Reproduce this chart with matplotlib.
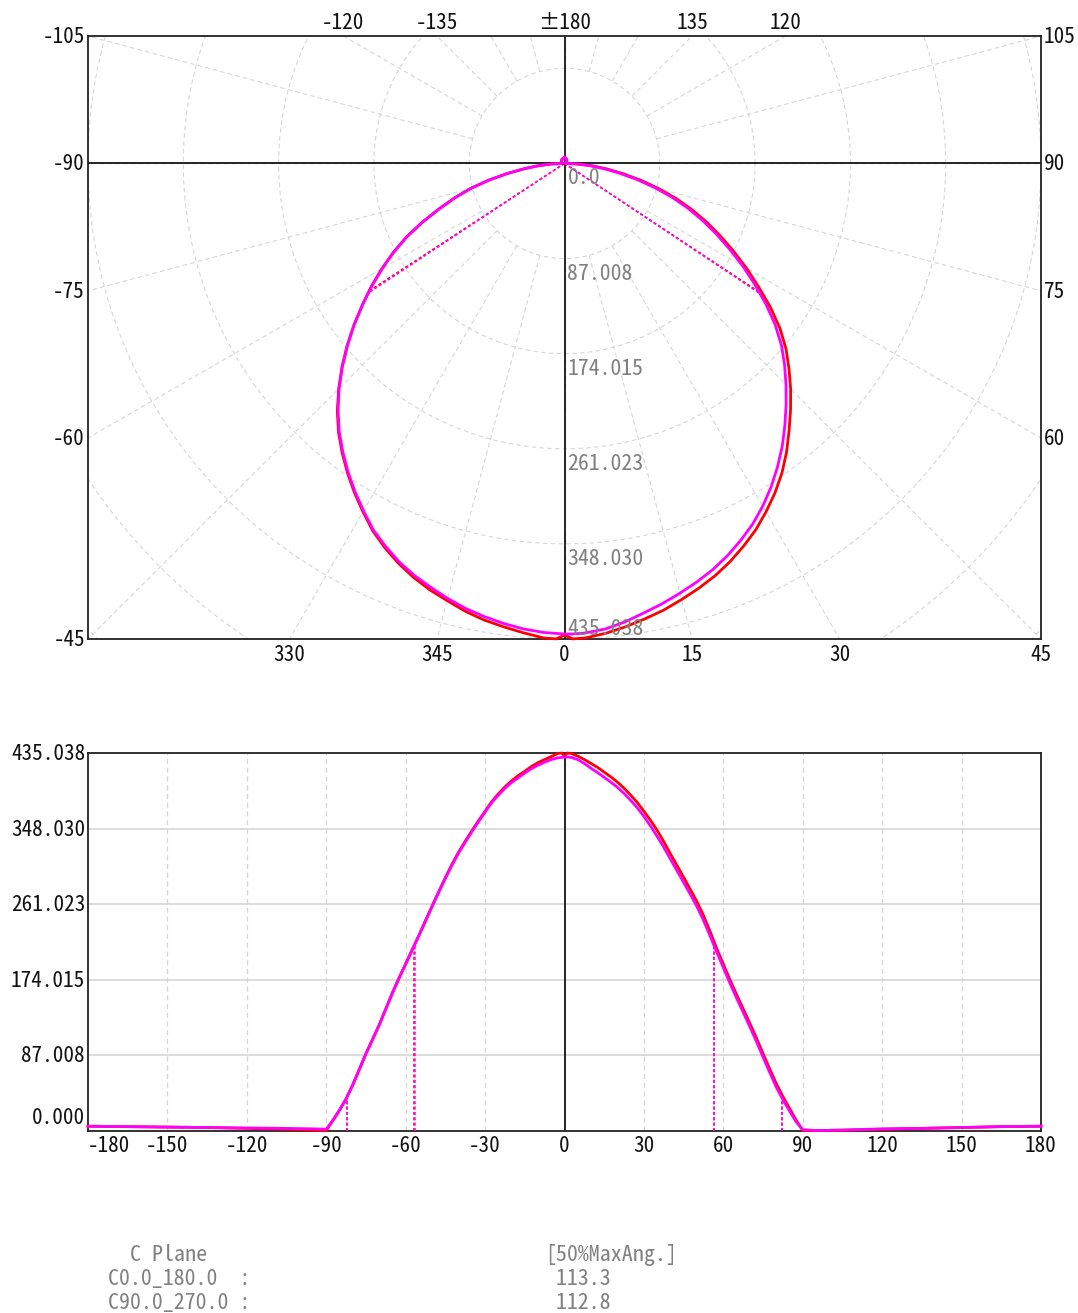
import numpy as np
import matplotlib
matplotlib.use('Agg')
import matplotlib.pyplot as plt
from matplotlib import font_manager as fm

# --- 数据 ---
# 角度采样: 背面稀疏, 主光瓣每 2.5 度一个点
gamma = ([-180, -165, -150, -135, -120, -105, -95]
         + [-90 + 2.5 * i for i in range(36)]      # -90 .. -2.5
         + [-1, 0, 1]
         + [2.5 + 2.5 * i for i in range(36)]      # 2.5 .. 90
         + [95, 105, 120, 135, 150, 165, 180])

c0_180 = ([5.5, 5.0, 4.5, 4.0, 3.0, 2.0, 1.0]
          + [0.5, 12, 24, 37, 53, 71, 89, 105.5, 122, 140.5, 159, 176,
             192.5, 209, 225, 242, 259, 275.5, 291.5, 307, 321, 333.5, 345.5, 357,
             368, 379, 388, 396, 403, 409, 414, 419.5, 424, 427.5, 431, 434.5]
          + [435.0, 431.5, 435.0]
          + [434.5, 431.5, 427.5, 423, 418.5, 413, 407.5, 401.5, 394.5, 386.5, 378, 368,
             357.5, 346, 333, 319, 305.5, 292, 278, 264, 248, 229.5, 210, 192,
             174, 157, 140.5, 124, 107, 89, 71.5, 54.5, 39.5, 26, 12.5, 0.5]
          + [0.5, 1.0, 2.0, 3.0, 4.0, 5.0, 5.5])

c90_270 = ([5.5, 5.0, 4.5, 4.0, 3.5, 3.0, 2.5]
           + [2.0, 12.5, 24, 37, 53, 71, 89, 105.5, 122, 140.5, 159, 176,
              192, 208.5, 225, 242, 258.5, 275, 291, 306, 320, 332.5, 344.5, 356,
              367, 378, 386.5, 394.5, 401, 406.5, 412, 417, 421, 424.5, 427.5, 429.5]
           + [430.0, 430.5, 430.5]
           + [430, 427.5, 423, 417.5, 412.5, 407, 401.5, 395.5, 388.5, 380.5, 372, 362,
              351, 339, 326.5, 313, 299.5, 286, 272.5, 258.5, 242.5, 224.5, 206, 188,
              170, 153, 136.5, 120, 103, 85, 67.5, 50.5, 36, 23, 10.5, 1.5]
           + [0.5, 1.0, 2.5, 3.0, 4.0, 5.0, 5.5])

half_max_c0 = [-56.8, 56.5]
half_max_c90 = [-56.5, 56.3]
tenth_max_c0 = [-82.1, 82.3]
tenth_max_c90 = [-82.0, 82.1]

ring_values = [0.0, 87.008, 174.015, 261.023, 348.030, 435.038]
ring_labels = ['0.0', '87.008', '174.015', '261.023', '348.030', '435.038']
lin_ylabels = ['0.000', '87.008', '174.015', '261.023', '348.030', '435.038']

polar_tick_angles = [-135, -120, -105, -90, -75, -60, -45, -30, -15, 0,
                     15, 30, 45, 60, 75, 90, 105, 120, 135, 180]
polar_tick_labels = ['-135', '-120', '-105', '-90', '-75', '-60', '-45', '330', '345', '0',
                     '15', '30', '45', '60', '75', '90', '105', '120', '135', '\u00b1180']

lin_xticks = [-180, -150, -120, -90, -60, -30, 0, 30, 60, 90, 120, 150, 180]

table_planes = ['C0.0_180.0', 'C90.0_270.0']
table_half_angles = [113.3, 112.8]

RED = '#ff0000'
MAGENTA = '#ff00ff'
GRID = '#d6d6d6'
GRAY_TXT = '#808080'
AXIS_TXT = '#111111'


def pick_mono():
    # 优先使用窄一些的等宽字体
    for name, cell in [('Noto Sans Mono CJK JP', 0.5), ('DejaVu Sans Mono', 0.602)]:
        try:
            fm.findfont(fm.FontProperties(family=name), fallback_to_default=False)
            return name, cell
        except ValueError:
            pass
    return 'DejaVu Sans Mono', 0.602


FONT, CELL = pick_mono()


def fs(px_per_char):
    return px_per_char / CELL * 0.72


plt.rcParams['font.family'] = [FONT, 'DejaVu Sans']

W, H = 1078, 1313
fig = plt.figure(figsize=(W / 100, H / 100), dpi=100)


def box(left, top, right, bottom):
    return [left / W, 1 - bottom / H, (right - left) / W, (bottom - top) / H]


# ================= 极坐标配光曲线 =================
R = ring_values[-1]
step = ring_values[1]
ytop = R * np.tan(np.radians(15))

ax = fig.add_axes(box(88, 36, 1041, 639))
ax.set_xlim(-R, R)
ax.set_ylim(-R, ytop)
ax.set_xticks([])
ax.set_yticks([])
for sp in ax.spines.values():
    sp.set_color('#222222')
    sp.set_linewidth(1.3)

phi = np.linspace(0, 2 * np.pi, 721)
for k in range(1, 8):
    r = k * step
    ax.plot(r * np.cos(phi), r * np.sin(phi), color=GRID, lw=0.8, ls=(0, (4, 3)), zorder=1)
for a in range(0, 360, 15):
    t = np.radians(a)
    ax.plot([step * np.sin(t), 2 * R * np.sin(t)], [-step * np.cos(t), -2 * R * np.cos(t)],
            color=GRID, lw=0.8, ls=(0, (4, 3)), zorder=1)

ax.axhline(0, color='black', lw=1.2, zorder=2)
ax.axvline(0, color='black', lw=1.2, zorder=2)

th = np.radians(gamma)
for vals, col in [(c0_180, RED), (c90_270, MAGENTA)]:
    v = np.array(vals)
    ax.plot(v * np.sin(th), -v * np.cos(th), color=col, lw=2.0, zorder=4, clip_on=False)

for angs, vals, col in [(half_max_c0, c0_180, RED), (half_max_c90, c90_270, MAGENTA)]:
    for a in angs:
        r = np.interp(a, gamma, vals)
        t = np.radians(a)
        ax.plot([0, r * np.sin(t)], [0, -r * np.cos(t)], color=col, lw=1.1,
                ls=(0, (2, 1.5)), zorder=3)

# 径向刻度标签
fs_ring = fs(10.9)
for i, (v, lab) in enumerate(zip(ring_values, ring_labels)):
    dy = 4 if i == len(ring_values) - 1 else -21
    ax.annotate(lab, xy=(0, -v), xytext=(3, dy), textcoords='offset pixels',
                ha='left', va='baseline', color=GRAY_TXT, fontsize=fs_ring, zorder=5)

# 边框上的角度标签
fs_axis = fs(10.6)
eps = 1e-6 * R
for a, lab in zip(polar_tick_angles, polar_tick_labels):
    t = np.radians(a)
    s, c = np.sin(t), -np.cos(t)
    tx = R / abs(s) if abs(s) > 1e-9 else np.inf
    if abs(c) < 1e-9:
        ty = np.inf
    else:
        ty = (ytop if c > 0 else R) / abs(c)
    tt = min(tx, ty)
    px, py = tt * s, tt * c
    if abs(tx - ty) < eps:
        on_side = py > 0 or a < 0
    else:
        on_side = tx < ty
    if on_side:
        off = (-3, -1) if px < 0 else (3, -1)
        ha = 'right' if px < 0 else 'left'
    else:
        off = (0, 13) if py > 0 else (0, -16)
        ha = 'center'
    ax.annotate(lab, xy=(px, py), xytext=off, textcoords='offset pixels',
                ha=ha, va='center', fontsize=fs_axis, color=AXIS_TXT, annotation_clip=False)

# ================= 直角坐标曲线 =================
bx = fig.add_axes(box(88, 753, 1041, 1131))
bx.set_xlim(-180, 180)
bx.set_ylim(0, R)
bx.set_xticks([])
bx.set_yticks([])
for sp in bx.spines.values():
    sp.set_color('#222222')
    sp.set_linewidth(1.3)

for v in ring_values[1:-1]:
    bx.axhline(v, color=GRID, lw=1.2, zorder=1)
for x in lin_xticks[1:-1]:
    if x == 0:
        bx.axvline(0, color='black', lw=1.2, zorder=2)
    else:
        bx.axvline(x, color=GRID, lw=0.9, ls=(0, (4, 3)), zorder=1)

bx.plot(gamma, c0_180, color=RED, lw=2.0, zorder=4, clip_on=False)
bx.plot(gamma, c90_270, color=MAGENTA, lw=2.0, zorder=4, clip_on=False)

for angs, vals, col in [(half_max_c0, c0_180, RED), (tenth_max_c0, c0_180, RED),
                        (half_max_c90, c90_270, MAGENTA), (tenth_max_c90, c90_270, MAGENTA)]:
    for a in angs:
        bx.plot([a, a], [0, np.interp(a, gamma, vals)], color=col, lw=1.1,
                ls=(0, (2, 1.5)), zorder=3)

for v, lab in zip(ring_values, lin_ylabels):
    dy = 13 if v == 0 else -1
    bx.annotate(lab, xy=(0, v), xycoords=('axes fraction', 'data'), xytext=(-3, dy),
                textcoords='offset pixels', ha='right', va='center', fontsize=fs_axis,
                color=AXIS_TXT, annotation_clip=False)
for x in lin_xticks:
    bx.annotate(str(x), xy=(x, 0), xycoords=('data', 'axes fraction'), xytext=(0, -15),
                textcoords='offset pixels', ha='left' if x == -180 else 'center', va='center',
                fontsize=fs_axis, color=AXIS_TXT, annotation_clip=False)

# ================= 底部表格 =================
fs_tab = fs(11.0)
fig.text(108 / W, 1 - 1255 / H, '  C Plane', ha='left', va='center', fontsize=fs_tab, color=GRAY_TXT)
fig.text(545 / W, 1 - 1255 / H, '[50%MaxAng.]', ha='left', va='center', fontsize=fs_tab, color=GRAY_TXT)
for i, (name, val) in enumerate(zip(table_planes, table_half_angles)):
    yy = 1 - (1279 + 24 * i) / H
    fig.text(108 / W, yy, f'{name:<12}:', ha='left', va='center', fontsize=fs_tab, color=GRAY_TXT)
    fig.text(545 / W, yy, f' {val:.1f}', ha='left', va='center', fontsize=fs_tab, color=GRAY_TXT)

fig.savefig('out.png', dpi=100)
